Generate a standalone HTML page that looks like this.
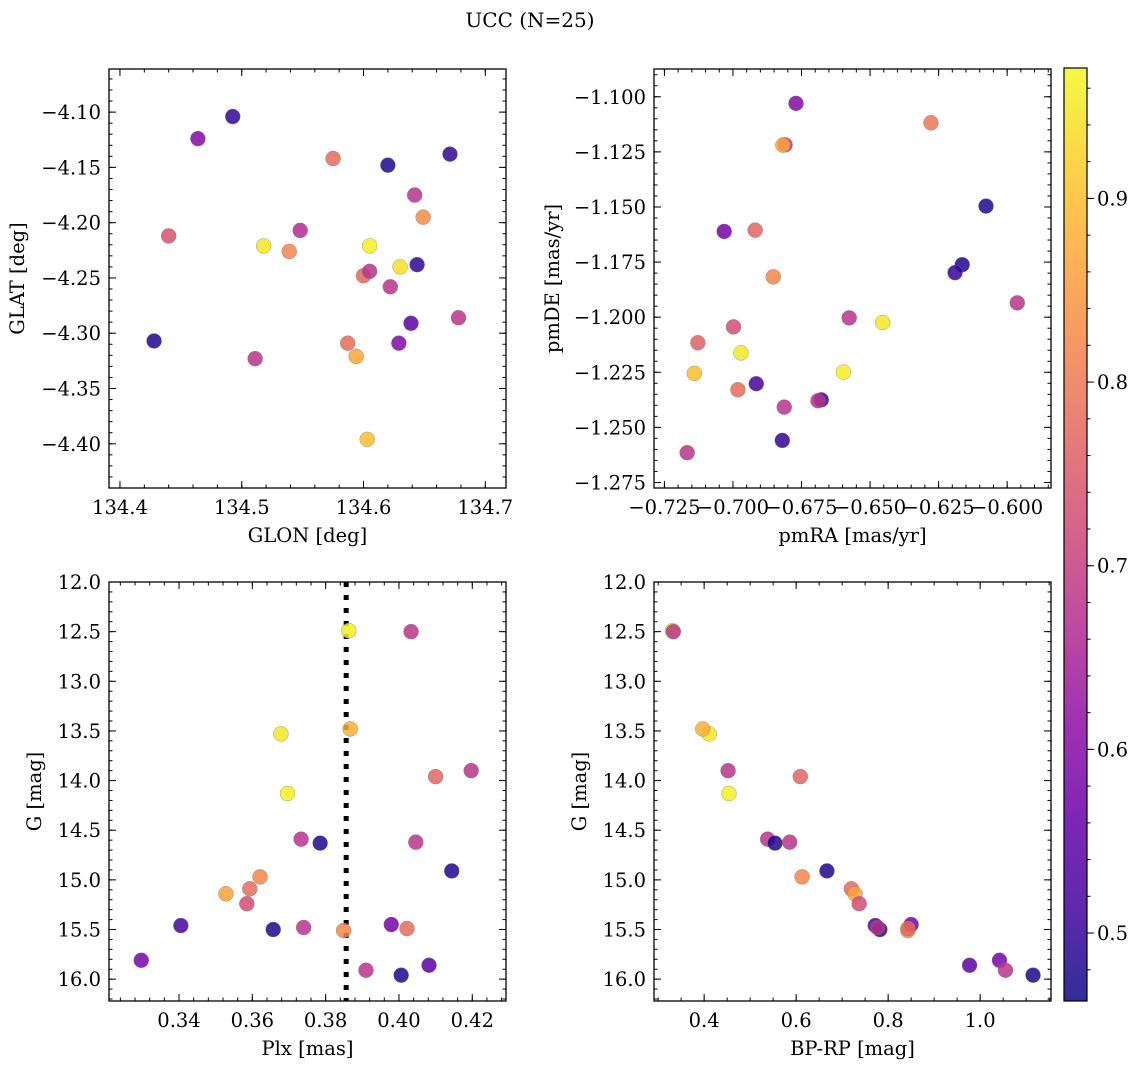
<!DOCTYPE html>
<html><head><meta charset="utf-8"><style>
html,body{margin:0;padding:0;background:#fff;}
svg{display:block;font-family:"DejaVu Serif","Liberation Serif",serif;}
</style></head><body>
<svg id="fig" width="1136" height="1068" viewBox="0 0 1136 1068" xmlns="http://www.w3.org/2000/svg">
<text x="530" y="27" font-size="20" text-anchor="middle">UCC (N=25)</text>
</svg>
<script>
// ---- Panel 1 data: GLON / GLAT ----
const glon = [134.4926,134.464,134.575,134.620,134.671,134.642,134.649,134.440,134.548,134.518,134.539,134.605,134.630,134.644,134.600,134.605,134.622,134.678,134.639,134.428,134.587,134.629,134.511,134.594,134.603];
const glat = [-4.104,-4.124,-4.142,-4.148,-4.138,-4.175,-4.195,-4.212,-4.207,-4.221,-4.226,-4.221,-4.240,-4.238,-4.248,-4.244,-4.258,-4.286,-4.291,-4.307,-4.309,-4.309,-4.323,-4.321,-4.396];
const probTop1 = [0.50,0.60,0.78,0.48,0.50,0.68,0.83,0.74,0.67,0.95,0.82,0.96,0.94,0.50,0.77,0.68,0.68,0.68,0.55,0.48,0.78,0.60,0.68,0.87,0.90];
// ---- Panel 2 data: pmRA / pmDE ----
const pmra = [-0.677,-0.6278,-0.6810,-0.6818,-0.6077,-0.7032,-0.6919,-0.6164,-0.6190,-0.6853,-0.5963,-0.6576,-0.6454,-0.6998,-0.7128,-0.6971,-0.7141,-0.6597,-0.6915,-0.6982,-0.6678,-0.6690,-0.6813,-0.6820,-0.7167];
const pmde = [-1.103,-1.1118,-1.1218,-1.1219,-1.1496,-1.1611,-1.1605,-1.1762,-1.1798,-1.1817,-1.1935,-1.2003,-1.2024,-1.2044,-1.2116,-1.2162,-1.2255,-1.2249,-1.2302,-1.2329,-1.2375,-1.2379,-1.2408,-1.2559,-1.2615];
const probTop2 = [0.60,0.80,0.68,0.87,0.48,0.58,0.77,0.48,0.50,0.82,0.68,0.68,0.95,0.73,0.76,0.95,0.90,0.96,0.52,0.78,0.50,0.68,0.68,0.50,0.68];
// ---- Bottom panels data (shared per star) ----
const gmag = [12.49,12.50,13.53,13.48,13.90,13.96,14.13,14.59,14.63,14.62,14.91,14.97,15.09,15.14,15.24,15.46,15.50,15.48,15.51,15.45,15.49,15.81,15.91,15.86,15.96];
const plx  = [0.3863,0.4033,0.3678,0.3867,0.4197,0.4100,0.3696,0.3733,0.3785,0.4046,0.4144,0.3621,0.3593,0.3528,0.3585,0.3405,0.3657,0.3740,0.3849,0.3979,0.4022,0.3297,0.3910,0.4082,0.4006];
const bprp = [0.331,0.333,0.411,0.397,0.452,0.609,0.454,0.538,0.554,0.586,0.667,0.613,0.720,0.728,0.737,0.772,0.782,0.777,0.843,0.850,0.843,1.042,1.055,0.977,1.115];
const probBot = [0.96,0.68,0.95,0.88,0.68,0.77,0.96,0.68,0.48,0.68,0.48,0.82,0.78,0.86,0.73,0.52,0.48,0.68,0.82,0.58,0.78,0.58,0.68,0.55,0.48];
const plxMedian = [0.3856];
const cbTicks = [0.5,0.6,0.7,0.8,0.9];

const FS=19.5;
const NS="http://www.w3.org/2000/svg";
const svg=document.getElementById('fig');
function mk(tag,attrs,parent){const e=document.createElementNS(NS,tag);for(const k in attrs)e.setAttribute(k,attrs[k]);(parent||svg).appendChild(e);return e;}
const plasma=[[13,8,135],[65,4,157],[106,0,168],[143,13,164],[177,42,144],[204,71,120],[225,100,98],[242,132,75],[252,166,54],[252,206,37],[240,249,33]];
const CMIN=0.463,CMAX=0.971;
function cmap(v){let t=(v-CMIN)/(CMAX-CMIN);t=Math.max(0,Math.min(1,t))*10;const i=Math.min(9,Math.floor(t));const f=t-i;const a=plasma[i],b=plasma[i+1];return 'rgb('+a.map((c,k)=>Math.round(c+(b[k]-c)*f)).join(',')+')';}
function fmt(v,d){const s=Math.abs(v).toFixed(d);return (v<-1e-9?'\u2212':'')+s;}

function panel(c){
  const g=mk('g',{});
  
  
  const sx=v=>c.x0+(v-c.xd[0])/(c.xd[1]-c.xd[0])*(c.x1-c.x0);
  const sy=c.invert?(v=>c.y0+(v-c.yd[0])/(c.yd[1]-c.yd[0])*(c.y1-c.y0)):(v=>c.y1-(v-c.yd[0])/(c.yd[1]-c.yd[0])*(c.y1-c.y0));
  const tg=mk('g',{stroke:'#000','stroke-width':1},g);
  function ticksX(step,len,major){
    const s=Math.ceil((c.xd[0]-1e-9)/step),e=Math.floor((c.xd[1]+1e-9)/step);
    for(let i=s;i<=e;i++){const v=i*step,x=sx(v);
      mk('line',{x1:x,x2:x,y1:c.y1,y2:c.y1-len},tg);mk('line',{x1:x,x2:x,y1:c.y0,y2:c.y0+len},tg);
      if(major){const t=mk('text',{x:x,y:c.y1+26,'font-size':FS,'text-anchor':'middle',stroke:'none'},g);t.textContent=fmt(v,c.xdec);
        
        }}
  }
  function ticksY(step,len,major){
    const lo=Math.min(c.yd[0],c.yd[1]),hi=Math.max(c.yd[0],c.yd[1]);
    const s=Math.ceil((lo-1e-9)/step),e=Math.floor((hi+1e-9)/step);
    for(let i=s;i<=e;i++){const v=i*step,y=sy(v);
      mk('line',{x1:c.x0,x2:c.x0+len,y1:y,y2:y},tg);mk('line',{x1:c.x1,x2:c.x1-len,y1:y,y2:y},tg);
      if(major){const t=mk('text',{x:c.x0-8,y:y+7,'font-size':FS,'text-anchor':'end',stroke:'none'},g);t.textContent=fmt(v,c.ydec);
        
        }}
  }
  ticksX(c.xmaj,7,true);ticksX(c.xmaj/c.xminN,3.5,false);
  ticksY(c.ymaj,7,true);ticksY(c.ymaj/c.yminN,3.5,false);
  if(c.vline!==undefined){const x=sx(c.vline);const l=mk('line',{x1:x,x2:x,y1:c.y0,y2:c.y1,stroke:'#000','stroke-width':5,'stroke-dasharray':'5,8'},g);
    
    }
  for(let i=0;i<c.xs.length;i++){
    const p=mk('circle',{cx:sx(c.xs[i]),cy:sy(c.ys[i]),r:7.5,fill:cmap(c.cs[i]),'fill-opacity':0.85,stroke:'#777','stroke-width':0.5,'stroke-opacity':0.7},g);
    
    
  }
  const fr=mk('rect',{x:c.x0,y:c.y0,width:c.x1-c.x0,height:c.y1-c.y0,fill:'none',stroke:'#000','stroke-width':1.3},g);
  
  
  const xl=mk('text',{x:(c.x0+c.x1)/2,y:c.y1+54,'font-size':FS,'text-anchor':'middle'},g);xl.textContent=c.xlabel;
  
  
  const yl=mk('text',{x:0,y:0,'font-size':FS,'text-anchor':'middle',transform:'translate('+c.ylx+','+((c.y0+c.y1)/2)+') rotate(-90)'},g);yl.textContent=c.ylabel;
  
  
}

panel({name:'glon-glat-panel',x0:109,x1:506,y0:69,y1:488,xd:[134.391,134.717],yd:[-4.440,-4.061],xmaj:0.1,xminN:5,ymaj:0.05,yminN:5,xdec:1,ydec:2,xs:glon,ys:glat,cs:probTop1,xlabel:'GLON [deg]',ylabel:'GLAT [deg]',ylx:24});
panel({name:'pm-panel',x0:654,x1:1051,y0:69,y1:488,xd:[-0.7288,-0.584],yd:[-1.2775,-1.0874],xmaj:0.025,xminN:5,ymaj:0.025,yminN:5,xdec:3,ydec:3,xs:pmra,ys:pmde,cs:probTop2,xlabel:'pmRA [mas/yr]',ylabel:'pmDE [mas/yr]',ylx:559});
panel({name:'plx-g-panel',x0:109,x1:506,y0:582,y1:1001,xd:[0.3209,0.4292],yd:[12.0,16.22],invert:true,xmaj:0.02,xminN:5,ymaj:0.5,yminN:5,xdec:2,ydec:1,xs:plx,ys:gmag,cs:probBot,vline:plxMedian[0],xlabel:'Plx [mas]',ylabel:'G [mag]',ylx:41});
panel({name:'cmd-panel',x0:654,x1:1051,y0:582,y1:1001,xd:[0.291,1.154],yd:[12.0,16.22],invert:true,xmaj:0.2,xminN:4,ymaj:0.5,yminN:5,xdec:1,ydec:1,xs:bprp,ys:gmag,cs:probBot,xlabel:'BP-RP [mag]',ylabel:'G [mag]',ylx:586});

// colorbar
(function(){
  const x0=1064,x1=1087,y0=68,y1=1001;
  const cb=mk('g',{});
  
  
  const defs=mk('defs',{},cb);
  const lg=mk('linearGradient',{id:'cbg',x1:0,y1:1,x2:0,y2:0},defs);
  for(let i=0;i<=20;i++){const v=CMIN+(CMAX-CMIN)*i/20;mk('stop',{offset:(i/20),'stop-color':cmap(v),'stop-opacity':0.85},lg);}
  mk('rect',{x:x0,y:y0,width:x1-x0,height:y1-y0,fill:'url(#cbg)',stroke:'#000','stroke-width':1.2},cb);
  const sy=v=>y1-(v-CMIN)/(CMAX-CMIN)*(y1-y0);
  for(let i=Math.ceil(CMIN/0.02);i*0.02<=CMAX;i++){const y=sy(i*0.02);mk('line',{x1:x1,x2:x1+3.5,y1:y,y2:y,stroke:'#000'},cb);}
  cbTicks.forEach(v=>{const y=sy(v);mk('line',{x1:x1,x2:x1+7,y1:y,y2:y,stroke:'#000'},cb);
    const t=mk('text',{x:x1+10,y:y+7,'font-size':FS},cb);t.textContent=v.toFixed(1);
    
    });
})();
</script>
</body></html>
